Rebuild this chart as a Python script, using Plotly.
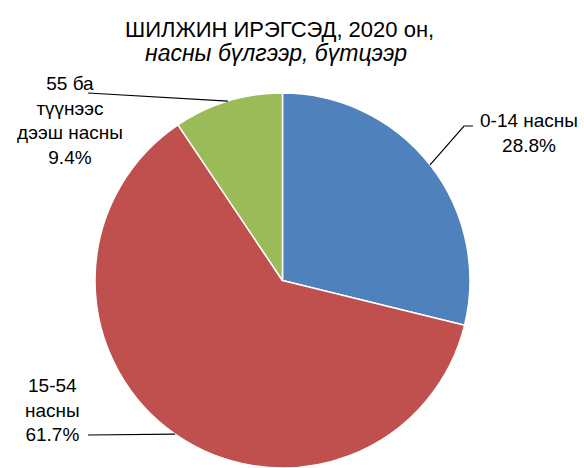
import math
import plotly.graph_objects as go

# ---- data ----
categories = ["0-14 насны", "15-54 насны", "55 ба түүнээс дээш насны"]
label_lines = ["0-14 насны<br>28.8%", "15-54<br>насны<br>61.7%", "55 ба<br>түүнээс<br>дээш насны<br>9.4%"]
values = [28.8, 61.7, 9.4]
colors = ["#4F81BD", "#C0504D", "#9BBB59"]
title_line1 = "ШИЛЖИН ИРЭГСЭД, 2020 он,"
title_line2 = "насны бүлгээр, бүтцээр"

W, H = 584, 468
cx, cy, r = 282.5, 280.5, 187.5

fig = go.Figure(go.Pie(
    labels=categories,
    values=values,
    sort=False,
    direction="clockwise",
    rotation=0,
    textinfo="none",
    hoverinfo="label+percent",
    marker=dict(colors=colors, line=dict(color="white", width=1.5)),
    domain=dict(x=[(cx - r) / W, (cx + r) / W], y=[0, (H - (cy - r)) / H]),
    showlegend=False,
))

def px2paper(x, y):
    return x / W, 1 - y / H

# edge points at slice mid angles
total = sum(values)
edge = []
cum = 0
for v in values:
    a = (cum + v / 2) / total * 2 * math.pi
    edge.append((cx + r * math.sin(a), cy - r * math.cos(a)))
    cum += v

# label positions (pixel) and leader-line anchor points
label_pos = [(529, 133), (52, 410), (70, 121)]
line_pts = [
    [(473, 126), (464, 126)],
    [(88, 435)],
    [(88, 93)],
]

shapes = []
for i in range(3):
    pts = line_pts[i] + [edge[i]]
    path = ""
    for j, (x, y) in enumerate(pts):
        X, Y = px2paper(x, y)
        path += ("M" if j == 0 else "L") + f"{X:.5f},{Y:.5f} "
    shapes.append(dict(type="path", xref="paper", yref="paper", path=path.strip(),
                       line=dict(color="black", width=1.2)))

FONT = "Liberation Sans, Arial, sans-serif"
annotations = []
for i in range(3):
    X, Y = px2paper(*label_pos[i])
    annotations.append(dict(text=label_lines[i], x=X, y=Y, xref="paper", yref="paper",
                            xanchor="center", yanchor="middle", showarrow=False,
                            font=dict(family=FONT, size=19, color="black"),
                            align="center"))

tX, tY = px2paper(279, 29)
annotations.append(dict(text=title_line1, x=tX, y=tY, xref="paper", yref="paper",
                        xanchor="center", yanchor="middle", showarrow=False,
                        font=dict(family=FONT, size=22, color="black")))
tX, tY = px2paper(276, 53)
annotations.append(dict(text=f"<i>{title_line2}</i>", x=tX, y=tY, xref="paper", yref="paper",
                        xanchor="center", yanchor="middle", showarrow=False,
                        font=dict(family=FONT, size=23, color="black")))

fig.update_layout(
    width=W, height=H,
    margin=dict(l=0, r=0, t=0, b=0),
    paper_bgcolor="white", plot_bgcolor="white",
    shapes=shapes, annotations=annotations,
)

fig.write_html("out.html", config={"displayModeBar": False},
               post_script="document.body.style.margin='0';")
